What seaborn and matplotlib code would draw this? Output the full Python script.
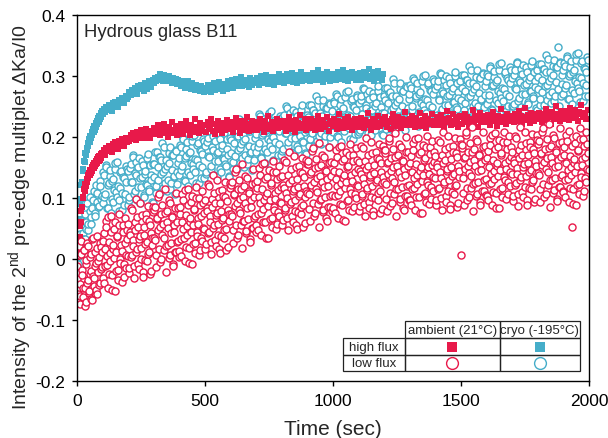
import numpy as np
import pandas as pd
import matplotlib
matplotlib.use("Agg")
import matplotlib.pyplot as plt
from matplotlib.patches import Rectangle
import seaborn as sns

# ---------------- data (in units of 1e-3) ----------------
# high flux, ambient (21 C): early segment 0-100 s, late segment 100-2000 s
amb_high_early_m = [3, 15, 18, 31, 36, 54, 60, 79, 85, 101, 100, 114, 112, 123, 119, 131, 127, 137, 133, 141,
                    138, 146, 141, 150, 145, 154, 149, 157, 152, 161, 155, 164, 158, 167, 161, 169, 163, 172, 166, 174]
amb_high_late_m = [
    173, 179, 171, 182, 177, 185, 180, 176, 188, 183, 191, 185, 181, 193, 188, 196, 190, 186, 198, 192,
    199, 194, 203, 197, 206, 200, 195, 209, 202, 198, 211, 204, 199, 207, 213, 201, 205, 198, 210, 206,
    214, 205, 211, 219, 208, 203, 216, 210, 222, 206, 213, 200, 217, 209, 224, 212, 207, 215, 204, 218,
    209, 221, 213, 205, 218, 226, 211, 216, 203, 220, 214, 208, 229, 212, 217, 206, 223, 210, 215, 219,
    219, 208, 224, 213, 217, 230, 210, 221, 205, 216, 226, 212, 219, 207, 223, 215, 211, 228, 214, 218,
    213, 225, 209, 220, 231, 216, 222, 207, 219, 227, 212, 224, 218, 233, 210, 221, 215, 226, 220, 211,
    224, 212, 219, 229, 215, 222, 208, 226, 218, 234, 213, 220, 225, 210, 221, 217, 230, 214, 223, 219,
    216, 227, 221, 210, 224, 219, 232, 213, 226, 220, 209, 228, 217, 223, 236, 214, 222, 218, 229, 212,
    225, 214, 221, 230, 217, 226, 211, 223, 235, 219, 224, 213, 228, 220, 216, 232, 222, 210, 227, 221,
    218, 229, 223, 213, 227, 237, 220, 225, 214, 230, 222, 216, 233, 219, 226, 211, 224, 229, 217, 222,
    226, 217, 231, 222, 214, 228, 224, 239, 219, 225, 212, 230, 221, 227, 216, 234, 223, 218, 229, 225,
    221, 232, 217, 227, 224, 213, 230, 238, 222, 226, 218, 233, 225, 215, 229, 224, 241, 220, 228, 223,
    229, 220, 234, 225, 216, 231, 227, 222, 240, 218, 228, 224, 235, 214, 230, 226, 221, 237, 227, 219,
    223, 233, 228, 219, 236, 225, 230, 215, 229, 243, 224, 231, 220, 227, 238, 222, 232, 226, 217, 234,
    232, 221, 229, 238, 225, 233, 218, 230, 226, 244, 223, 235, 228, 216, 231, 239, 224, 229, 234, 227,
    225, 236, 229, 220, 233, 241, 227, 231, 218, 235, 228, 246, 224, 232, 229, 221, 238, 230, 226, 234,
    233, 224, 238, 230, 227, 243, 229, 235, 221, 232, 248, 228, 236, 231, 223, 240, 233, 227, 237, 230,
    229, 240, 234, 225, 238, 231, 246, 228, 236, 233, 222, 241, 235, 229, 250, 232, 238, 226, 243, 234,
    237, 230, 243, 235, 228, 247, 233, 239, 231, 244, 236, 226, 241, 238, 252, 232, 240, 235, 229, 245]

# high flux, cryo (-195 C): early 0-100 s, late 100-1200 s
cryo_high_early_m = [6, 25, 32, 54, 65, 90, 99, 121, 127, 145, 147, 161, 159, 173, 171, 182, 178, 190, 186, 196,
                     192, 202, 198, 208, 204, 213, 208, 218, 212, 223, 217, 227, 221, 231, 225, 235, 229, 239, 233, 243]
cryo_high_late_m = [
    238, 246, 241, 249, 244, 252, 247, 243, 255, 250, 258, 253, 249, 261, 256, 264, 259, 255, 267, 262,
    266, 273, 269, 277, 272, 280, 275, 271, 283, 278, 286, 281, 276, 289, 284, 279, 291, 286, 282, 293,
    289, 296, 292, 299, 294, 303, 297, 291, 301, 295, 298, 292, 300, 294, 289, 297, 291, 295, 287, 293,
    290, 284, 292, 286, 281, 289, 283, 291, 285, 279, 288, 282, 277, 286, 280, 284, 276, 283, 279, 274,
    281, 276, 286, 279, 284, 273, 282, 288, 277, 283, 279, 290, 281, 285, 276, 287, 282, 278, 291, 284,
    286, 293, 281, 289, 295, 284, 291, 287, 298, 283, 290, 286, 294, 288, 282, 296, 290, 285, 293, 289,
    291, 297, 286, 294, 300, 289, 295, 291, 302, 287, 293, 298, 290, 296, 285, 299, 294, 290, 303, 295,
    293, 300, 289, 297, 303, 292, 298, 294, 305, 290, 296, 301, 288, 299, 295, 307, 292, 298, 294, 302,
    296, 302, 291, 299, 305, 294, 300, 297, 309, 293, 298, 303, 290, 301, 297, 306, 295, 300, 292, 304,
    297, 304, 293, 300, 306, 295, 301, 298, 310, 294, 299, 305, 291, 302, 297, 307, 296, 301, 293, 303,
    298, 305, 294, 301, 307, 296, 302, 299, 311, 295, 300, 306, 292, 303, 298, 308, 297, 302, 294, 304]

# low flux, cryo: two interleaved read-off passes, early 0-100 s and late 100-2000 s
cryo_low_early_m = [12, -8, 41, 18, 63, 32, 74, 49, 91, 58, 102, 69, 83, 112, 76, 121, 94, 87, 128, 99]
cryo_low_early_b_m = [4, 26, 15, 43, 33, 61, 48, 79, 57, 96, 71, 108, 85, 119, 104]
cryo_low_late_m = [
    92, 138, 107, 151, 83, 124, 146, 98, 131, 113, 157, 102, 119, 79, 142, 109, 134, 88, 127, 148,
    144, 101, 156, 126, 168, 111, 137, 96, 151, 132, 118, 161, 105, 140, 123, 165, 114, 154, 129, 92,
    134, 175, 119, 150, 167, 108, 162, 142, 184, 125, 153, 130, 173, 115, 146, 170, 136, 179, 123, 158,
    137, 183, 152, 196, 128, 169, 191, 143, 176, 158, 202, 147, 164, 124, 187, 154, 179, 133, 172, 193,
    186, 143, 198, 168, 210, 153, 179, 138, 193, 174, 160, 203, 147, 182, 165, 207, 156, 196, 171, 134,
    174, 215, 159, 190, 207, 148, 202, 182, 224, 165, 193, 170, 213, 155, 186, 210, 176, 219, 163, 198,
    175, 221, 190, 234, 166, 207, 229, 181, 214, 196, 240, 185, 202, 162, 225, 192, 217, 171, 210, 231,
    224, 181, 236, 206, 248, 191, 217, 176, 231, 212, 198, 241, 185, 220, 203, 245, 194, 234, 209, 172,
    211, 252, 196, 227, 244, 185, 239, 219, 261, 202, 230, 207, 250, 192, 223, 247, 213, 256, 200, 235,
    209, 255, 224, 268, 200, 241, 263, 215, 248, 230, 274, 219, 236, 196, 259, 226, 251, 205, 244, 265,
    255, 212, 267, 237, 279, 222, 248, 207, 262, 243, 229, 272, 216, 251, 234, 276, 225, 265, 240, 203,
    239, 280, 224, 255, 272, 213, 267, 247, 289, 230, 258, 235, 278, 220, 251, 275, 241, 284, 228, 263,
    235, 281, 250, 294, 226, 267, 289, 241, 274, 256, 300, 245, 262, 222, 285, 252, 277, 231, 270, 291,
    279, 236, 291, 261, 303, 246, 272, 231, 286, 267, 253, 296, 240, 275, 258, 300, 249, 289, 264, 227,
    260, 301, 245, 276, 293, 234, 288, 268, 310, 251, 279, 256, 299, 241, 272, 296, 262, 305, 249, 284,
    254, 300, 269, 313, 245, 286, 308, 260, 293, 275, 319, 264, 281, 241, 304, 271, 296, 250, 289, 310,
    297, 254, 309, 279, 321, 264, 290, 249, 304, 285, 271, 314, 258, 293, 276, 318, 267, 307, 282, 245,
    278, 319, 263, 294, 311, 252, 306, 286, 328, 269, 297, 274, 317, 259, 290, 314, 347, 323, 267, 302,
    271, 317, 286, 330, 262, 303, 325, 277, 310, 292, 336, 281, 298, 258, 321, 288, 313, 267, 306, 327]
cryo_low_late_b_m = [
    142, 101, 154, 84, 121, 136, 75, 128, 93, 148, 110, 159, 97, 117, 145, 80, 132, 106, 152, 88,
    97, 149, 127, 170, 106, 141, 159, 118, 165, 92, 134, 154, 101, 145, 122, 172, 111, 138, 94, 156,
    155, 108, 176, 129, 168, 139, 190, 117, 148, 163, 111, 157, 183, 124, 170, 134, 106, 177, 143, 165,
    187, 146, 199, 129, 166, 181, 120, 173, 138, 193, 155, 204, 142, 162, 190, 125, 177, 151, 197, 133,
    139, 191, 169, 212, 148, 183, 201, 160, 207, 134, 176, 196, 143, 187, 164, 214, 153, 180, 136, 198,
    195, 148, 216, 169, 208, 179, 230, 157, 188, 203, 151, 197, 223, 164, 210, 174, 146, 217, 183, 205,
    225, 184, 237, 167, 204, 219, 158, 211, 176, 231, 193, 242, 180, 200, 228, 163, 215, 189, 235, 171,
    177, 229, 207, 250, 186, 221, 239, 198, 245, 172, 214, 234, 181, 225, 202, 252, 191, 218, 174, 236,
    232, 185, 253, 206, 245, 216, 267, 194, 225, 240, 188, 234, 260, 201, 247, 211, 183, 254, 220, 242,
    259, 218, 271, 201, 238, 253, 192, 245, 210, 265, 227, 276, 214, 234, 262, 197, 249, 223, 269, 205,
    208, 260, 238, 281, 217, 252, 270, 229, 276, 203, 245, 265, 212, 256, 233, 283, 222, 249, 205, 267,
    260, 213, 281, 234, 273, 244, 295, 222, 253, 268, 216, 262, 288, 229, 275, 239, 211, 282, 248, 270,
    285, 244, 297, 227, 264, 279, 218, 271, 236, 291, 253, 302, 240, 260, 288, 223, 275, 249, 295, 231,
    232, 284, 262, 305, 241, 276, 294, 253, 300, 227, 269, 289, 236, 280, 257, 307, 246, 273, 229, 291,
    281, 234, 302, 255, 294, 265, 316, 243, 274, 289, 237, 283, 309, 250, 296, 260, 232, 303, 269, 291,
    304, 263, 316, 246, 283, 298, 237, 290, 255, 310, 272, 321, 259, 279, 307, 242, 294, 268, 314, 250,
    250, 302, 280, 323, 259, 294, 312, 271, 318, 245, 287, 307, 254, 298, 275, 325, 264, 291, 247, 309,
    299, 252, 320, 273, 312, 283, 334, 261, 292, 307, 255, 301, 327, 268, 314, 278, 250, 321, 287, 309,
    321, 280, 333, 263, 300, 315, 254, 307, 272, 327, 289, 338, 276, 296, 324, 259, 311, 285, 331, 267]

# low flux, ambient: two interleaved read-off passes, early 0-100 s and late 100-2000 s
amb_low_early_m = [-12, -58, 21, -41, -74, 8, -26, -63, 15, -48, -9, -71, 26, -35, -52,
                   4, -19, -66, 32, -28, -44, 11, -7, -57, 38, -21, 3, -39, 19, -13]
amb_low_early_b_m = [-33, 7, -61, 29, -18, -47, 14, -77, -2, -39, 22, -55, -24, 9, -68,
                     35, -31, -11, -50, 18, -4, -42, 27, -16, 12]
amb_low_late_m = [
    -31, 42, -12, 63, 5, -47, 28, -4, 71, -26, 17, 49, -52, 11, 36, -18, 56, 0, 23, -37, 45, -9, 67, 7, 32,
    58, -14, 39, 3, 81, 22, -31, 47, 12, 69, -8, 33, 91, 18, -22, 53, -1, 74, 28, 8, 63, -25, 42, 23, 85,
    34, 86, 7, 65, 47, 107, -5, 74, 40, 58, 15, 115, 22, 79, 51, 2, 92, 26, 69, -12, 45, 83, 11, 61, 30,
    13, 86, 32, 107, 49, -3, 72, 40, 115, 18, 61, 93, -8, 55, 80, 26, 100, 44, 67, 7, 89, 35, 111, 51, 76,
    97, 25, 78, 42, 120, 61, 8, 86, 51, 108, 31, 72, 130, 57, 17, 92, 38, 113, 67, 47, 102, 14, 81, 62, 124,
    74, 126, 47, 105, 87, 147, 35, 114, 80, 98, 55, 155, 62, 119, 91, 42, 132, 66, 109, 28, 85, 123, 51, 101, 70,
    55, 128, 74, 149, 91, 39, 114, 82, 157, 60, 103, 135, 34, 97, 122, 68, 142, 86, 109, 49, 131, 77, 153, 93, 118,
    136, 64, 117, 81, 159, 100, 47, 125, 90, 147, 70, 111, 169, 96, 56, 131, 77, 152, 106, 86, 141, 53, 120, 101, 163,
    109, 161, 82, 140, 122, 182, 70, 149, 115, 133, 90, 190, 97, 154, 126, 77, 167, 101, 144, 63, 120, 158, 86, 136, 105,
    84, 157, 103, 178, 120, 68, 143, 111, 186, 89, 132, 164, 63, 126, 151, 97, 171, 115, 138, 78, 160, 106, 182, 122, 147,
    159, 87, 140, 104, 182, 123, 70, 148, 113, 170, 93, 134, 192, 119, 79, 154, 100, 175, 129, 109, 164, 76, 143, 124, 186,
    126, 178, 99, 157, 139, 199, 87, 166, 132, 150, 107, 207, 114, 171, 143, 94, 184, 118, 161, 80, 137, 175, 103, 153, 122,
    96, 169, 115, 190, 132, 80, 155, 123, 198, 101, 144, 176, 75, 138, 163, 109, 183, 127, 150, 90, 172, 118, 194, 134, 159,
    169, 97, 150, 114, 192, 133, 80, 158, 123, 180, 103, 144, 202, 129, 89, 164, 110, 185, 139, 119, 174, 86, 153, 134, 196,
    7, 187, 108, 166, 148, 208, 96, 175, 141, 159, 116, 216, 123, 180, 152, 103, 193, 127, 170, 89, 146, 184, 112, 162, 131,
    104, 177, 123, 198, 140, 88, 163, 131, 206, 109, 152, 184, 83, 146, 171, 117, 191, 135, 158, 98, 180, 126, 202, 142, 167,
    176, 104, 157, 121, 199, 140, 87, 165, 130, 187, 110, 151, 209, 136, 96, 171, 117, 192, 146, 126, 181, 93, 160, 141, 203,
    141, 193, 114, 172, 154, 214, 102, 181, 147, 165, 122, 222, 129, 186, 158, 109, 199, 133, 176, 95, 152, 190, 118, 168, 137,
    110, 183, 129, 204, 146, 94, 169, 137, 52, 115, 158, 190, 89, 152, 177, 123, 197, 141, 164, 104, 186, 132, 208, 148, 173]
amb_low_late_b_m = [
    30, -39, 16, 52, -10, 69, -25, 10, 45, -51, 23, 1, 60, -20, 38, -34, 74, -6, 13, 56, -29, 27, -15, 48, 5,
    -23, 44, 84, 6, 31, -11, 60, 98, 16, 52, -17, 37, 0, 72, -29, 40, 25, 65, -4, 87, 11, 56, -19, 34, 77,
    81, 31, -13, 67, 102, 16, 52, 0, 89, 35, 75, -22, 61, 23, 96, 6, 43, 71, -8, 56, 11, 108, 28, 84, 4,
    74, 5, 60, 96, 34, 113, 19, 54, 89, -7, 67, 45, 104, 24, 82, 10, 118, 38, 57, 100, 15, 71, 29, 92, 49,
    16, 83, 123, 45, 70, 28, 99, 137, 55, 91, 22, 76, 39, 111, 10, 79, 64, 104, 35, 126, 50, 95, 20, 73, 116,
    121, 71, 27, 107, 142, 56, 92, 40, 129, 75, 115, 18, 101, 63, 136, 46, 83, 111, 32, 96, 51, 148, 68, 124, 44,
    116, 47, 102, 138, 76, 155, 61, 96, 131, 35, 109, 87, 146, 66, 124, 52, 160, 80, 99, 142, 57, 113, 71, 134, 91,
    55, 122, 162, 84, 109, 67, 138, 176, 94, 130, 61, 115, 78, 150, 49, 118, 103, 143, 74, 165, 89, 134, 59, 112, 155,
    156, 106, 62, 142, 177, 91, 127, 75, 164, 110, 150, 53, 136, 98, 171, 81, 118, 146, 67, 131, 86, 183, 103, 159, 79,
    145, 76, 131, 167, 105, 184, 90, 125, 160, 64, 138, 116, 175, 95, 153, 81, 189, 109, 128, 171, 86, 142, 100, 163, 120,
    78, 145, 185, 107, 132, 90, 161, 199, 117, 153, 84, 138, 101, 173, 72, 141, 126, 166, 97, 188, 112, 157, 82, 135, 178,
    173, 123, 79, 159, 194, 108, 144, 92, 181, 127, 167, 70, 153, 115, 188, 98, 135, 163, 84, 148, 103, 200, 120, 176, 96,
    157, 88, 143, 179, 117, 196, 102, 137, 172, 76, 150, 128, 187, 107, 165, 93, 201, 121, 140, 183, 98, 154, 112, 175, 132,
    88, 155, 195, 117, 142, 100, 171, 209, 127, 163, 94, 148, 111, 183, 82, 151, 136, 176, 107, 198, 122, 167, 92, 145, 188,
    182, 132, 88, 168, 203, 117, 153, 101, 190, 136, 176, 79, 162, 124, 197, 107, 144, 172, 93, 157, 112, 209, 129, 185, 105,
    165, 96, 151, 187, 125, 204, 110, 145, 180, 84, 158, 136, 195, 115, 173, 101, 209, 129, 148, 191, 106, 162, 120, 183, 140,
    95, 162, 202, 124, 149, 107, 178, 216, 134, 170, 101, 155, 118, 190, 89, 158, 143, 183, 114, 205, 129, 174, 99, 152, 195,
    188, 138, 94, 174, 209, 123, 159, 107, 196, 142, 182, 85, 168, 130, 203, 113, 150, 178, 99, 163, 118, 215, 135, 191, 111,
    171, 102, 157, 193, 131, 210, 116, 151, 186, 90, 164, 142, 201, 121, 179, 107, 215, 135, 154, 197, 112, 168, 126, 189, 146]

x_ticks = [0, 500, 1000, 1500, 2000]
y_ticks = [-0.2, -0.1, 0, 0.1, 0.2, 0.3, 0.4]
y_tick_labels = ["-0.2", "-0.1", "0", "0.1", "0.2", "0.3", "0.4"]
col_labels = ["ambient (21°C)", "cryo (-195°C)"]
row_labels = ["high flux", "low flux"]

RED = "#E8194A"
CYAN = "#45ADC9"


def regular_times(n, t0, t1, shift=0.0):
    """Regular sampling times for n read-off values in [t0, t1)."""
    step = (t1 - t0) / n
    return t0 + (np.arange(n) + shift) * step


def series_frame(name, passes, t_end):
    ts, vs = [], []
    for early, late, shift in passes:
        ts += [regular_times(len(early), 0, 100, shift), regular_times(len(late), 100, t_end, shift)]
        vs += [np.array(early), np.array(late)]
    return pd.DataFrame({"time": np.concatenate(ts),
                         "value": np.concatenate(vs) / 1000.0,
                         "series": name})


df = pd.concat([
    series_frame("cryo_high", [(cryo_high_early_m, cryo_high_late_m, 0.0)], 1200),
    series_frame("cryo_low", [(cryo_low_early_m, cryo_low_late_m, 0.0),
                              (cryo_low_early_b_m, cryo_low_late_b_m, 0.5)], 2000),
    series_frame("amb_high", [(amb_high_early_m, amb_high_late_m, 0.0)], 2000),
    series_frame("amb_low", [(amb_low_early_m, amb_low_late_m, 0.0),
                             (amb_low_early_b_m, amb_low_late_b_m, 0.5)], 2000),
], ignore_index=True)

# ---------------- plotting ----------------
sns.set_theme(style="ticks")
plt.rcParams["font.family"] = ["Liberation Sans", "DejaVu Sans"]
plt.rcParams["mathtext.fontset"] = "custom"
plt.rcParams["mathtext.rm"] = "Liberation Sans"
plt.rcParams["mathtext.it"] = "Liberation Sans:italic"

fig = plt.figure(figsize=(6.08, 4.39), dpi=100)
ax = fig.add_axes([0.1266, 0.1298, 0.8422, 0.8338])

styles = {
    "cryo_high": dict(marker="s", s=13, color=CYAN, linewidth=0),
    "cryo_low": dict(marker="o", s=26, facecolor="white", edgecolor=CYAN, linewidth=1.0),
    "amb_high": dict(marker="s", s=13, color=RED, linewidth=0),
    "amb_low": dict(marker="o", s=26, facecolor="white", edgecolor=RED, linewidth=1.0),
}
for name in ["cryo_high", "cryo_low", "amb_high", "amb_low"]:
    sub = df[df["series"] == name].sort_values("time")
    sns.scatterplot(data=sub, x="time", y="value", ax=ax, legend=False, **styles[name])

ax.set_xlim(0, 2000)
ax.set_ylim(-0.2, 0.4)
ax.set_xticks(x_ticks)
ax.set_xticklabels([str(v) for v in x_ticks])
ax.set_yticks(y_ticks)
ax.set_yticklabels(y_tick_labels)
ax.tick_params(axis="both", direction="out", length=3.5, width=1, labelsize=12.5,
               colors="black", pad=5)
for sp in ax.spines.values():
    sp.set_visible(True)
    sp.set_color("black")
    sp.set_linewidth(1)

ax.set_xlabel("Time (sec)", fontsize=15)
ax.set_ylabel(r"Intensity of the 2$^{\mathrm{nd}}$ pre-edge multiplet ΔKa/I0", fontsize=14)
ax.xaxis.set_label_coords(0.5, -0.131)
ax.xaxis.label.set_va("center")
ax.yaxis.set_label_coords(-0.111, 0.451)
ax.yaxis.label.set_va("center")

ax.text(0.014, 0.954, "Hydrous glass B11", transform=ax.transAxes, fontsize=13.3,
        ha="left", va="center")

# ---------------- legend table ----------------
xs = [0.5195, 0.6406, 0.826, 0.982]
ys = [0.1639, 0.1175, 0.0710, 0.0273]
lw = 0.9
for j in range(2):
    ax.add_patch(Rectangle((xs[j + 1], ys[1]), xs[j + 2] - xs[j + 1], ys[0] - ys[1],
                           transform=ax.transAxes, fill=False, lw=lw, ec="#222222"))
    ax.text((xs[j + 1] + xs[j + 2]) / 2, (ys[0] + ys[1]) / 2, col_labels[j],
            transform=ax.transAxes, ha="center", va="center", fontsize=9.5)
for i in range(2):
    for j in range(3):
        ax.add_patch(Rectangle((xs[j], ys[i + 2]), xs[j + 1] - xs[j], ys[i + 1] - ys[i + 2],
                               transform=ax.transAxes, fill=False, lw=lw, ec="#222222"))
    ax.text((xs[0] + xs[1]) / 2, (ys[i + 1] + ys[i + 2]) / 2, row_labels[i],
            transform=ax.transAxes, ha="center", va="center", fontsize=9.5)

legend_marks = [
    [dict(marker="s", ms=7, color=RED, mew=0, ls="none"),
     dict(marker="s", ms=7, color=CYAN, mew=0, ls="none")],
    [dict(marker="o", ms=8.5, mfc="white", mec=RED, mew=1, ls="none"),
     dict(marker="o", ms=8.5, mfc="white", mec=CYAN, mew=1, ls="none")],
]
for i in range(2):
    for j in range(2):
        ax.plot([(xs[j + 1] + xs[j + 2]) / 2], [(ys[i + 1] + ys[i + 2]) / 2],
                transform=ax.transAxes, clip_on=False, **legend_marks[i][j])

fig.savefig("out.png", dpi=100)
